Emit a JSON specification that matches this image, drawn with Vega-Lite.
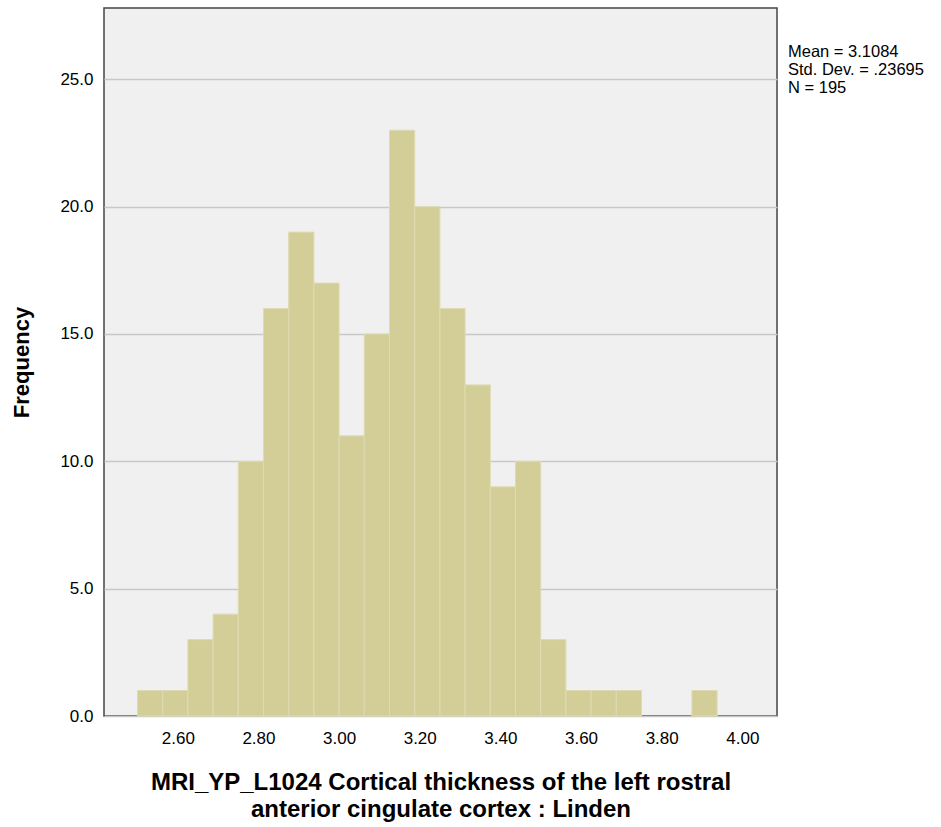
{
  "$schema": "https://vega.github.io/schema/vega-lite/v6.json",
  "autosize": "none",
  "width": 673,
  "height": 708,
  "padding": {"left": 104, "top": 8, "right": 164, "bottom": 111},
  "background": "#ffffff",
  "title": {
    "text": ["Mean = 3.1084", "Std. Dev. = .23695", "N = 195"],
    "anchor": "start",
    "frame": "group",
    "orient": "top",
    "offset": -88,
    "dx": 684,
    "font": "Liberation Sans",
    "fontSize": 16.5,
    "fontWeight": "normal",
    "color": "#000000",
    "lineHeight": 18
  },
  "config": {
    "view": {"fill": "#F0F0F0", "stroke": "#444444", "strokeWidth": 1.5},
    "axis": {
      "labelFont": "Liberation Sans",
      "titleFont": "Liberation Sans",
      "labelFontSize": 17,
      "labelColor": "#000000",
      "titleColor": "#000000",
      "domain": false,
      "ticks": false
    }
  },
  "data": {
    "values": [
      {"bin_start": 2.5, "bin_end": 2.5625, "count": 1},
      {"bin_start": 2.5625, "bin_end": 2.625, "count": 1},
      {"bin_start": 2.625, "bin_end": 2.6875, "count": 3},
      {"bin_start": 2.6875, "bin_end": 2.75, "count": 4},
      {"bin_start": 2.75, "bin_end": 2.8125, "count": 10},
      {"bin_start": 2.8125, "bin_end": 2.875, "count": 16},
      {"bin_start": 2.875, "bin_end": 2.9375, "count": 19},
      {"bin_start": 2.9375, "bin_end": 3.0, "count": 17},
      {"bin_start": 3.0, "bin_end": 3.0625, "count": 11},
      {"bin_start": 3.0625, "bin_end": 3.125, "count": 15},
      {"bin_start": 3.125, "bin_end": 3.1875, "count": 23},
      {"bin_start": 3.1875, "bin_end": 3.25, "count": 20},
      {"bin_start": 3.25, "bin_end": 3.3125, "count": 16},
      {"bin_start": 3.3125, "bin_end": 3.375, "count": 13},
      {"bin_start": 3.375, "bin_end": 3.4375, "count": 9},
      {"bin_start": 3.4375, "bin_end": 3.5, "count": 10},
      {"bin_start": 3.5, "bin_end": 3.5625, "count": 3},
      {"bin_start": 3.5625, "bin_end": 3.625, "count": 1},
      {"bin_start": 3.625, "bin_end": 3.6875, "count": 1},
      {"bin_start": 3.6875, "bin_end": 3.75, "count": 1},
      {"bin_start": 3.875, "bin_end": 3.9375, "count": 1}
    ]
  },
  "mark": {"type": "rect", "fill": "#D3CE98", "stroke": "#DEDBB2", "strokeWidth": 1},
  "encoding": {
    "x": {
      "field": "bin_start",
      "type": "quantitative",
      "scale": {"domain": [2.417, 4.086], "nice": false, "zero": false},
      "axis": {
        "values": [2.6, 2.8, 3.0, 3.2, 3.4, 3.6, 3.8, 4.0],
        "format": ".2f",
        "grid": false,
        "labelPadding": 14,
        "title": ["MRI_YP_L1024 Cortical thickness of the left rostral", "anterior cingulate cortex : Linden"],
        "titleFontSize": 24,
        "titleFontWeight": "bold",
        "titleLineHeight": 27,
        "titlePadding": 24
      }
    },
    "x2": {"field": "bin_end"},
    "y": {
      "field": "count",
      "type": "quantitative",
      "scale": {"domain": [0, 27.8], "nice": false},
      "axis": {
        "values": [0, 5, 10, 15, 20, 25],
        "format": ".1f",
        "grid": true,
        "gridColor": "#C8C8C8",
        "gridWidth": 1.5,
        "labelPadding": 11,
        "title": "Frequency",
        "titleFontSize": 22,
        "titleFontWeight": "bold",
        "titlePadding": 26
      }
    }
  }
}
